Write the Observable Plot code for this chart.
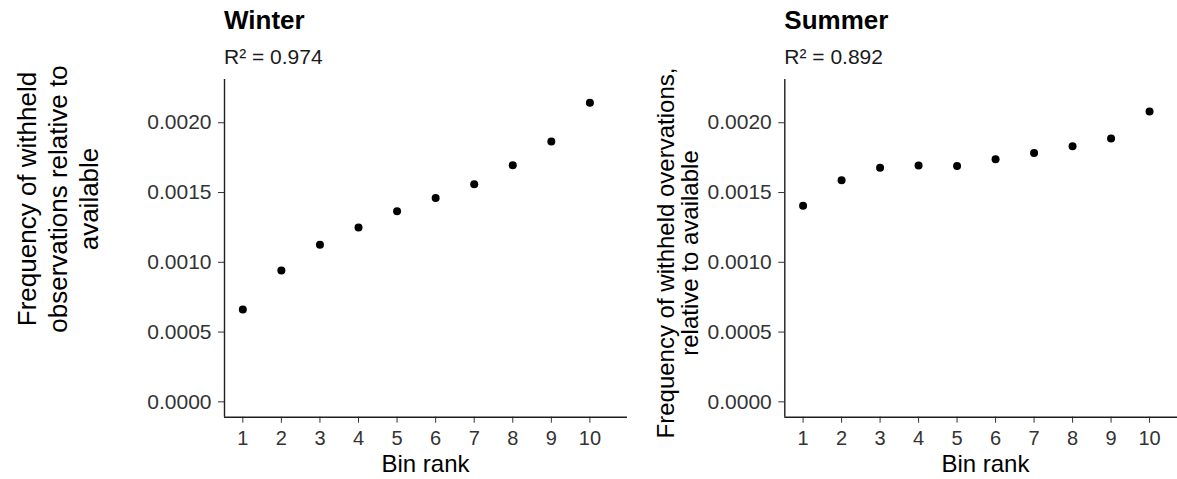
<!DOCTYPE html>
<html><head><meta charset="utf-8">
<script src="https://cdn.jsdelivr.net/npm/d3@7"></script>
<script src="https://cdn.jsdelivr.net/npm/@observablehq/plot@0.6"></script>
<style>
html,body{margin:0;padding:0;background:#fff;}
#wrap{position:relative;width:1177px;height:479px;overflow:hidden;background:#fff;}
.panel{position:absolute;top:0;}
.panel svg{max-width:none !important;display:block;}
</style></head><body><div id="wrap"></div>
<script>
// ---- data ----
const binRank = [1, 2, 3, 4, 5, 6, 7, 8, 9, 10];
const winterFreq = [0.000661, 0.000941, 0.001126, 0.00125, 0.001365, 0.001461, 0.001559, 0.001696, 0.001866, 0.002144];
const summerFreq = [0.001406, 0.001588, 0.001677, 0.001693, 0.001691, 0.001739, 0.001784, 0.001832, 0.001887, 0.002081];
const yTicks = [0, 0.0005, 0.001, 0.0015, 0.002];
const xTicks = [1, 2, 3, 4, 5, 6, 7, 8, 9, 10];
const panelTitles = ["Winter", "Summer"];
const r2Labels = ["R\u00b2 = 0.974", "R\u00b2 = 0.892"];
const yTitles = [
  ["Frequency of withheld", "observations relative to", "available"],
  ["Frequency of withheld overvations,", "relative to available"]
];
const xTitle = "Bin rank";

const FONT = '"Liberation Sans", Arial, Helvetica, sans-serif';
const xDomain = [0.525, 10.975];
const yDomain = [-0.00011, 0.00231];

function panel(cfg) {
  const div = document.createElement("div");
  div.className = "panel";
  div.style.left = cfg.left + "px";
  div.style.width = cfg.width + "px";
  const svg = Plot.plot({
    width: cfg.width,
    height: 479,
    marginLeft: cfg.marginLeft,
    marginRight: cfg.marginRight,
    marginTop: 79,
    marginBottom: 62.3,
    style: {fontFamily: FONT, fontSize: "21px", color: "#333333", background: "transparent", overflow: "visible"},
    x: {domain: xDomain, label: null},
    y: {domain: yDomain, label: null},
    marks: [
      Plot.axisY(yTicks, {tickSize: 6, tickPadding: 7, tickFormat: d3.format(".4f"), fontSize: 21, label: null}),
      Plot.axisX(xTicks, {tickSize: 6, tickPadding: 8, tickFormat: d => String(d), fontSize: 20, label: null}),
      Plot.ruleX([xDomain[0]], {stroke: "#1f1f1f", strokeWidth: 1.4}),
      Plot.ruleY([yDomain[0]], {stroke: "#1f1f1f", strokeWidth: 1.4}),
      Plot.dot(binRank, {x: d => d, y: (d, i) => cfg.values[i], r: 4, fill: "#000", stroke: "none"})
    ]
  });
  const s = d3.select(svg);
  const ml = cfg.marginLeft;
  s.append("text").attr("x", ml).attr("y", 29.3).attr("text-anchor", "start")
    .attr("font-family", FONT).attr("font-size", 26).attr("font-weight", "bold").attr("fill", "#000")
    .text(cfg.title);
  s.append("text").attr("x", ml).attr("y", 64).attr("text-anchor", "start")
    .attr("font-family", FONT).attr("font-size", 21).attr("fill", "#1a1a1a")
    .text(cfg.r2);
  s.append("text").attr("x", (ml + cfg.width - cfg.marginRight) / 2).attr("y", 471.7)
    .attr("text-anchor", "middle")
    .attr("font-family", FONT).attr("font-size", 24).attr("fill", "#000")
    .text(xTitle);
  cfg.yLines.forEach((line, i) => {
    s.append("text")
      .attr("transform", `translate(${cfg.yBase[i]},${cfg.yCenter}) rotate(-90)`)
      .attr("text-anchor", "middle")
      .attr("font-family", FONT).attr("font-size", cfg.yFont).attr("fill", "#000")
      .text(line);
  });
  div.appendChild(svg);
  document.getElementById("wrap").appendChild(div);
}

panel({left: 0, width: 640, marginLeft: 224, marginRight: 13, values: winterFreq,
  title: panelTitles[0], r2: r2Labels[0], yLines: yTitles[0],
  yBase: [36, 67, 98], yCenter: 199, yFont: 26});
panel({left: 640, width: 560, marginLeft: 144.3, marginRight: 13.4, values: summerFreq,
  title: panelTitles[1], r2: r2Labels[1], yLines: yTitles[1],
  yBase: [33.5, 57.5], yCenter: 253, yFont: 24});
</script></body></html>
